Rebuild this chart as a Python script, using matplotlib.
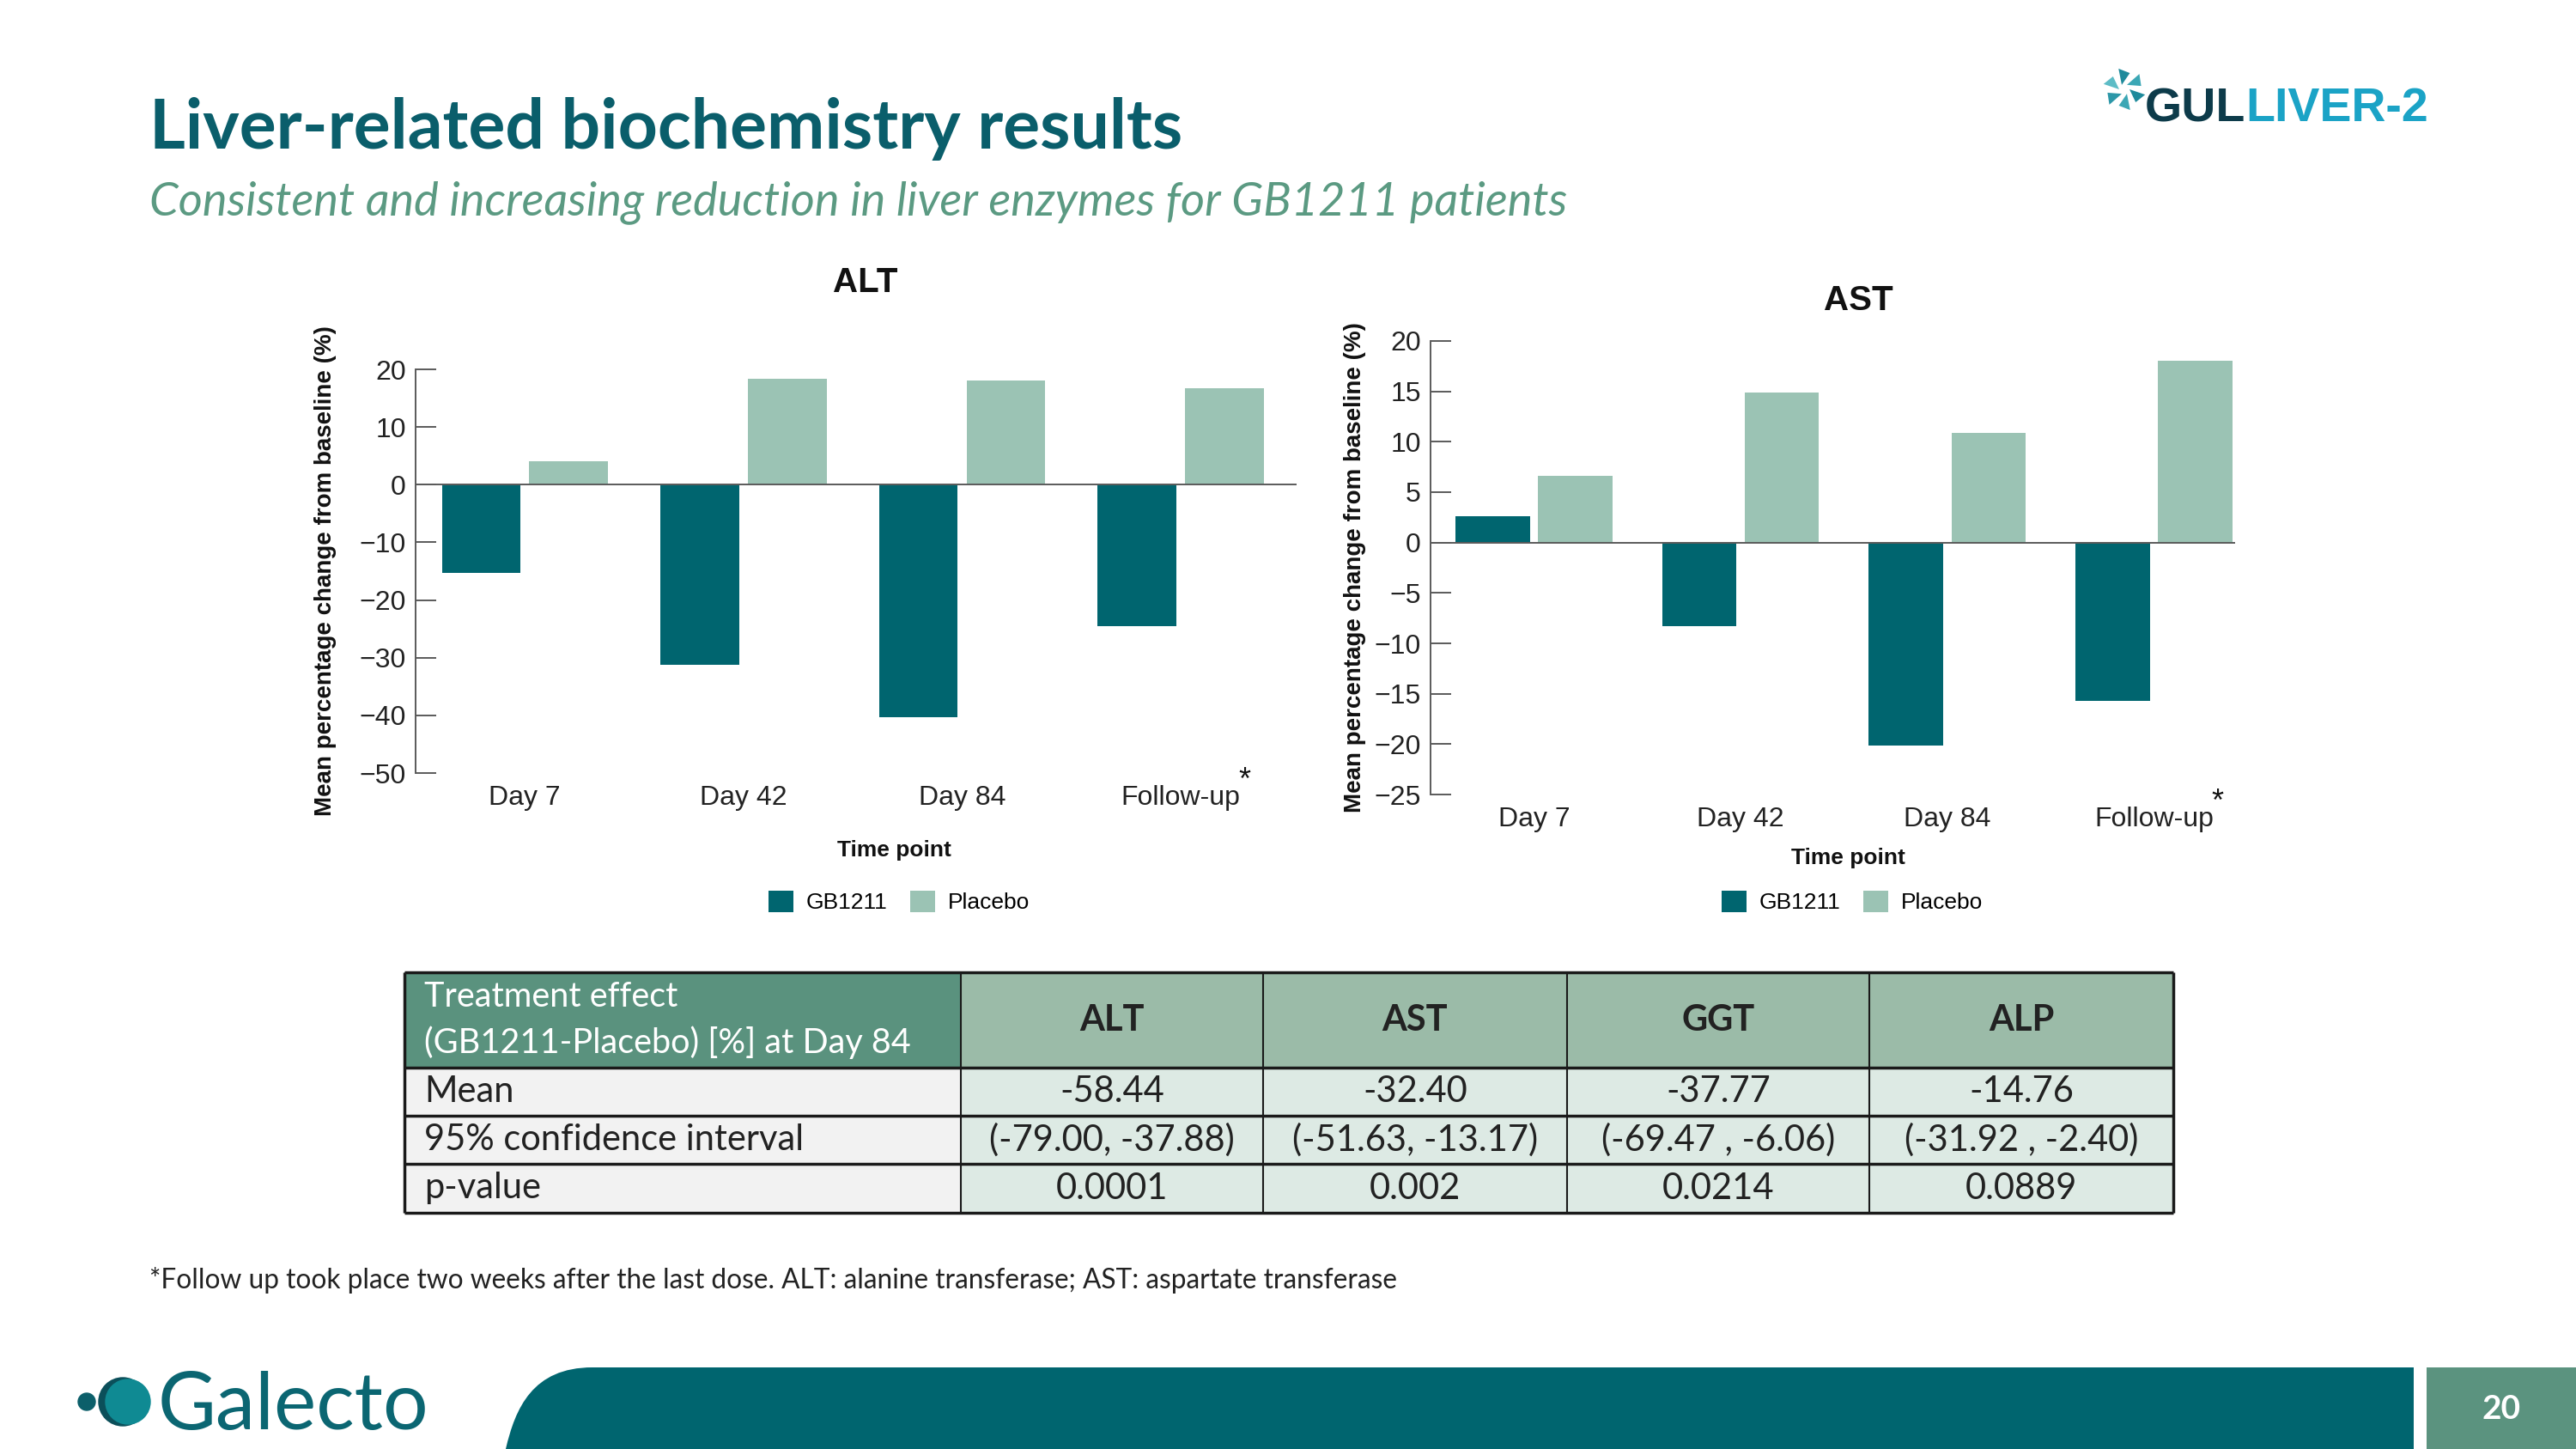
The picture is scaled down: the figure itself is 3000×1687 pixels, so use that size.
import numpy as np
import matplotlib.pyplot as plt
from matplotlib.patches import Rectangle, PathPatch, Circle, Polygon
from matplotlib.path import Path

# chart data
timepoints = ['Day 7', 'Day 42', 'Day 84', 'Follow-up']
alt_gb1211 = [-15.3, -31.2, -40.3, -24.6]
alt_placebo = [4.0, 18.4, 18.1, 16.7]
ast_gb1211 = [2.6, -8.3, -20.1, -15.7]
ast_placebo = [6.6, 14.9, 10.9, 18.0]
alt_ticks = [-50, -40, -30, -20, -10, 0, 10, 20]
ast_ticks = [-25, -20, -15, -10, -5, 0, 5, 10, 15, 20]

# table data
table_cols = ['ALT', 'AST', 'GGT', 'ALP']
table_rows = ['Mean', '95% confidence interval', 'p-value']
mean_vals = ['-58.44', '-32.40', '-37.77', '-14.76']
ci_vals = ['(-79.00, -37.88)', '(-51.63, -13.17)', '(-69.47 , -6.06)', '(-31.92 , -2.40)']
p_vals = ['0.0001', '0.002', '0.0214', '0.0889']

TEAL = '#00656F'
LIGHT = '#9BC3B4'
AXC = '#5a5a5a'
W, H = 3000, 1687
CHART_FONT = 'Liberation Sans'
SLIDE_FONT = 'Lato'

fig = plt.figure(figsize=(30, 16.87), dpi=100)

# background axes in pixel coordinates for slide furniture
bg = fig.add_axes([0, 0, 1, 1], zorder=-1)
bg.set_xlim(0, W)
bg.set_ylim(H, 0)
bg.axis('off')


def panel(rect, title, gb, pl, ticks, xmax, title_xy, tp_xy, ylab_x, leg_xy):
    ax = fig.add_axes([rect[0] / W, 1 - rect[3] / H, (rect[2] - rect[0]) / W, (rect[3] - rect[1]) / H])
    ax.set_facecolor('none')
    x = np.arange(len(timepoints))
    b1 = ax.bar(x - 0.2, gb, 0.36, color=TEAL, label='GB1211')
    b2 = ax.bar(x + 0.2, pl, 0.36, color=LIGHT, label='Placebo')
    ax.axhline(0, color=AXC, lw=1.4, zorder=3)
    ax.set_xlim(-0.5, xmax)
    ax.set_ylim(ticks[0], ticks[-1])
    ax.set_yticks(ticks)
    ax.set_xticks(x)
    ax.set_xticklabels(timepoints, family=CHART_FONT)
    for s in ['top', 'right', 'bottom']:
        ax.spines[s].set_visible(False)
    ax.spines['left'].set_color(AXC)
    ax.spines['left'].set_linewidth(1.4)
    ax.tick_params(axis='y', direction='in', length=17, width=1.4, color=AXC,
                   pad=8, labelsize=23, labelcolor='#222222')
    ax.tick_params(axis='x', length=0, pad=10, labelsize=23, labelcolor='#222222')
    for lab in ax.get_yticklabels():
        lab.set_family(CHART_FONT)

    bg.text(title_xy[0], title_xy[1], title, ha='center', va='center', fontsize=29,
            fontweight='bold', family=CHART_FONT, color='#111111')
    bg.text(tp_xy[0], tp_xy[1], 'Time point', ha='center', va='center', fontsize=19,
            fontweight='bold', family=CHART_FONT, color='#111111')
    bg.text(ylab_x, (rect[1] + rect[3]) / 2, 'Mean percentage change from baseline (%)',
            rotation=90, ha='center', va='center', fontsize=20, fontweight='bold',
            family=CHART_FONT, color='#111111')
    fig.legend(handles=[b1, b2], loc='center', bbox_to_anchor=(leg_xy[0] / W, 1 - leg_xy[1] / H),
               ncol=2, frameon=False, handlelength=1.1, handleheight=1.1,
               handletextpad=0.55, columnspacing=1.0,
               prop={'family': CHART_FONT, 'size': 19})
    return ax


ax_alt = panel((484, 430, 1510, 900), 'ALT', alt_gb1211, alt_placebo, alt_ticks, 3.53,
               (1008, 329), (1041, 990), 379, (1047, 1050))
ax_ast = panel((1666, 397, 2603, 925), 'AST', ast_gb1211, ast_placebo, ast_ticks, 3.393,
               (2164, 350), (2152, 999), 1578, (2157, 1050))

# asterisk after the Follow-up tick label
fig.canvas.draw()
for ax in (ax_alt, ax_ast):
    bb = ax.get_xticklabels()[-1].get_window_extent()
    bg.text(bb.x1 - 2, H - bb.y1 - 4, '*', ha='left', va='center', fontsize=26,
            family=CHART_FONT, color='#111111')

# title block
bg.text(174, 150, 'Liver-related biochemistry results', ha='left', va='center',
        fontsize=58, fontweight='bold', family=SLIDE_FONT, color='#0A5E6B')
bg.text(174, 236, 'Consistent and increasing reduction in liver enzymes for GB1211 patients',
        ha='left', va='center', fontsize=39, style='italic', family=SLIDE_FONT, color='#5B9A82')

# GULLIVER-2 logo
cx, cy = 2474, 104
blade_cols = ['#1E8A9B', '#3BA7B5', '#2C97A8', '#5DBCC6', '#1E8A9B', '#3BA7B5']
for i, c in enumerate(blade_cols):
    a = np.deg2rad(i * 60)
    pts = [(cx + 6 * np.cos(a), cy + 6 * np.sin(a)),
           (cx + 25 * np.cos(a + 0.25), cy + 25 * np.sin(a + 0.25)),
           (cx + 20 * np.cos(a + 0.85), cy + 20 * np.sin(a + 0.85))]
    bg.add_patch(Polygon(pts, closed=True, color=c, lw=0))
gul = bg.text(2498, 141, 'GUL', ha='left', va='baseline', fontsize=40, fontweight='bold',
              family='Liberation Sans', color='#0D3B4A')
bg.annotate('LIVER-2', xy=(1, 0), xycoords=gul, ha='left', va='bottom', fontsize=40,
            fontweight='bold', family='Liberation Sans', color='#1BA3C6')

# table
col_edges = [471, 1119, 1471, 1825, 2177, 2531]
row_edges = [1132, 1243, 1299, 1355, 1412]
for r in range(len(row_edges) - 1):
    for c in range(len(col_edges) - 1):
        if r == 0:
            fc = '#5A927E' if c == 0 else '#9BBBA8'
        else:
            fc = '#F2F2F2' if c == 0 else '#DDEAE4'
        bg.add_patch(Rectangle((col_edges[c], row_edges[r]), col_edges[c + 1] - col_edges[c],
                               row_edges[r + 1] - row_edges[r], facecolor=fc, edgecolor='none'))
for y in row_edges:
    bg.plot([col_edges[0], col_edges[-1]], [y, y], color='#1a1a1a', lw=2.5, solid_capstyle='butt')
for xe in col_edges:
    lw = 2.5 if xe in (col_edges[0], col_edges[-1]) else 1.5
    bg.plot([xe, xe], [row_edges[0], row_edges[-1]], color='#1a1a1a', lw=lw, solid_capstyle='butt')

TFS = 30
bg.text(494, 1160, 'Treatment effect', ha='left', va='center', fontsize=28.5,
        family=SLIDE_FONT, color='white')
bg.text(494, 1214, '(GB1211-Placebo) [%] at Day 84', ha='left', va='center', fontsize=28.5,
        family=SLIDE_FONT, color='white')
hdr_y = (row_edges[0] + row_edges[1]) / 2
for c, name in enumerate(table_cols):
    xc = (col_edges[c + 1] + col_edges[c + 2]) / 2
    bg.text(xc, hdr_y, name, ha='center', va='center', fontsize=TFS, fontweight='bold',
            family=SLIDE_FONT, color='#222222')
for r, (name, vals) in enumerate(zip(table_rows, [mean_vals, ci_vals, p_vals])):
    yc = (row_edges[r + 1] + row_edges[r + 2]) / 2
    bg.text(494, yc, name, ha='left', va='center', fontsize=TFS, family=SLIDE_FONT, color='#222222')
    for c, v in enumerate(vals):
        xc = (col_edges[c + 1] + col_edges[c + 2]) / 2
        bg.text(xc, yc, v, ha='center', va='center', fontsize=TFS, family=SLIDE_FONT, color='#222222')

# footnote
bg.text(174, 1490, '*Follow up took place two weeks after the last dose. ALT: alanine transferase; '
        'AST: aspartate transferase', ha='left', va='center', fontsize=22.8,
        family=SLIDE_FONT, color='#222222')

# footer band
verts = [(589, 1687), (600, 1640), (620, 1592), (690, 1592), (2811, 1592), (2811, 1687), (589, 1687)]
codes = [Path.MOVETO, Path.CURVE4, Path.CURVE4, Path.CURVE4, Path.LINETO, Path.LINETO, Path.CLOSEPOLY]
bg.add_patch(PathPatch(Path(verts, codes), facecolor='#00656F', edgecolor='none'))
bg.add_patch(Rectangle((2826, 1592), 174, 95, facecolor='#5B937F', edgecolor='none'))
bg.text(2913, 1641, '20', ha='center', va='center', fontsize=28, fontweight='bold',
        family=SLIDE_FONT, color='white')

# Galecto logo
bg.add_patch(Circle((101, 1632), 10, color='#0C5F6A'))
bg.add_patch(Circle((143, 1632), 28, color='#0B4F5A'))
bg.add_patch(Circle((149, 1632), 26, color='#0F8A93'))
bg.text(184, 1664, 'Galecto', ha='left', va='baseline', fontsize=67,
        family=SLIDE_FONT, color='#0B6672')

fig.savefig('out.png', dpi=100)
